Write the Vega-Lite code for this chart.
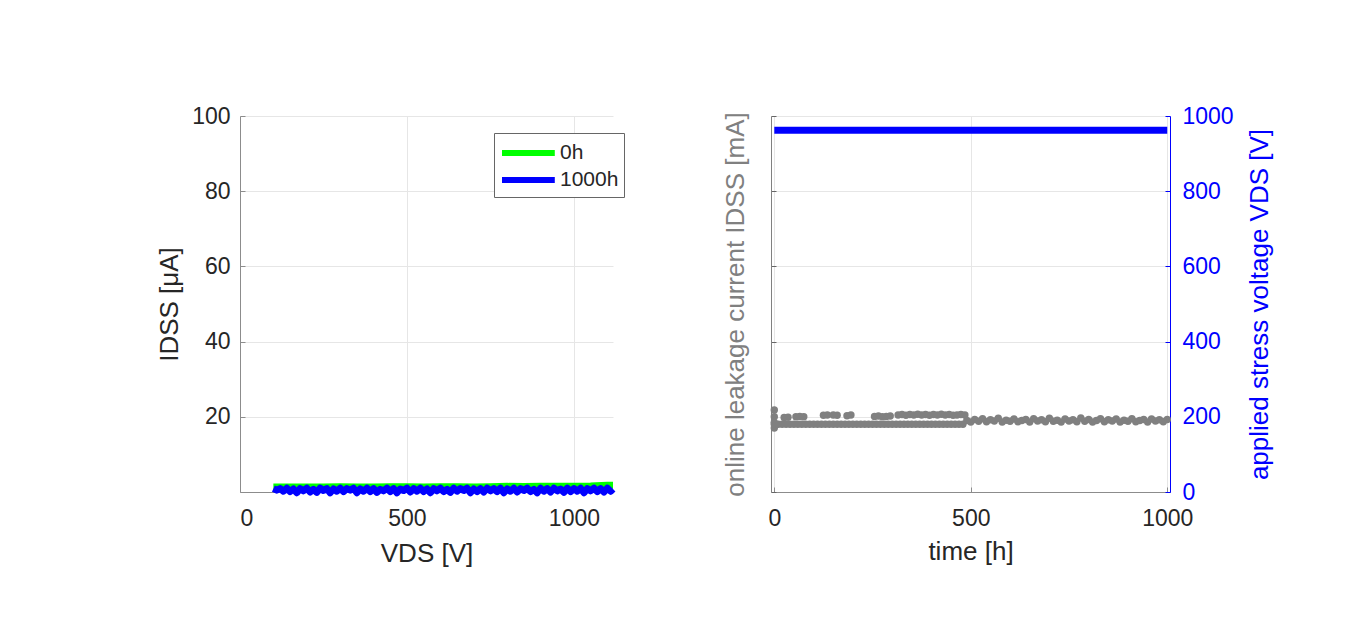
{
  "$schema": "https://vega.github.io/schema/vega-lite/v6.json",
  "background": "white",
  "padding": {"left": 156, "top": 105, "right": 5, "bottom": 5},
  "bounds": "flush",
  "spacing": 158,
  "config": {
    "font": "Liberation Sans",
    "view": {"stroke": null},
    "axis": {
      "labelFont": "Liberation Sans",
      "titleFont": "Liberation Sans",
      "labelFontSize": 23,
      "titleFontSize": 26,
      "titleFontWeight": "normal",
      "labelColor": "#262626",
      "titleColor": "#262626",
      "gridColor": "#e6e6e6",
      "domainColor": "#8c8c8c",
      "tickColor": "#8c8c8c",
      "tickSize": -5,
      "labelPadding": 15,
      "titlePadding": 8,
      "format": "d"
    },
    "axisX": {"labelPadding": 20, "titlePadding": 8},
    "legend": {"labelFont": "Liberation Sans"}
  },
  "datasets": {
    "sweep": [
      {"series": "0h", "V": 100, "I": 1.3}, {"series": "0h", "V": 150, "I": 1.35}, {"series": "0h", "V": 200, "I": 1.3},
      {"series": "0h", "V": 250, "I": 1.35}, {"series": "0h", "V": 300, "I": 1.4}, {"series": "0h", "V": 350, "I": 1.35},
      {"series": "0h", "V": 400, "I": 1.35}, {"series": "0h", "V": 450, "I": 1.4}, {"series": "0h", "V": 500, "I": 1.4},
      {"series": "0h", "V": 550, "I": 1.35}, {"series": "0h", "V": 600, "I": 1.4}, {"series": "0h", "V": 650, "I": 1.4},
      {"series": "0h", "V": 700, "I": 1.35}, {"series": "0h", "V": 750, "I": 1.4}, {"series": "0h", "V": 800, "I": 1.5},
      {"series": "0h", "V": 850, "I": 1.45}, {"series": "0h", "V": 900, "I": 1.5}, {"series": "0h", "V": 950, "I": 1.5},
      {"series": "0h", "V": 1000, "I": 1.55}, {"series": "0h", "V": 1050, "I": 1.6}, {"series": "0h", "V": 1100, "I": 1.8},
      {"series": "0h", "V": 1117, "I": 1.8},
      {"series": "1000h", "V": 100, "I": 0.9}, {"series": "1000h", "V": 110, "I": 0.5}, {"series": "1000h", "V": 120, "I": 0.9},
      {"series": "1000h", "V": 130, "I": 0.2}, {"series": "1000h", "V": 140, "I": 1.0}, {"series": "1000h", "V": 150, "I": 0.1},
      {"series": "1000h", "V": 160, "I": 0.8}, {"series": "1000h", "V": 170, "I": -0.2}, {"series": "1000h", "V": 180, "I": 0.9},
      {"series": "1000h", "V": 190, "I": 0.3}, {"series": "1000h", "V": 200, "I": 1.0}, {"series": "1000h", "V": 210, "I": 0.0},
      {"series": "1000h", "V": 220, "I": 0.7}, {"series": "1000h", "V": 230, "I": -0.1}, {"series": "1000h", "V": 240, "I": 1.0},
      {"series": "1000h", "V": 250, "I": 0.4}, {"series": "1000h", "V": 260, "I": 0.9}, {"series": "1000h", "V": 270, "I": -0.2},
      {"series": "1000h", "V": 280, "I": 0.8}, {"series": "1000h", "V": 290, "I": 0.2}, {"series": "1000h", "V": 300, "I": 1.0},
      {"series": "1000h", "V": 310, "I": 0.1}, {"series": "1000h", "V": 320, "I": 0.9}, {"series": "1000h", "V": 330, "I": 0.5},
      {"series": "1000h", "V": 340, "I": 1.0}, {"series": "1000h", "V": 350, "I": -0.2}, {"series": "1000h", "V": 360, "I": 0.8},
      {"series": "1000h", "V": 370, "I": 0.2}, {"series": "1000h", "V": 380, "I": 1.0}, {"series": "1000h", "V": 390, "I": 0.1},
      {"series": "1000h", "V": 400, "I": 0.9}, {"series": "1000h", "V": 410, "I": -0.1}, {"series": "1000h", "V": 420, "I": 0.7},
      {"series": "1000h", "V": 430, "I": 0.3}, {"series": "1000h", "V": 440, "I": 1.0}, {"series": "1000h", "V": 450, "I": 0.1},
      {"series": "1000h", "V": 460, "I": 0.9}, {"series": "1000h", "V": 470, "I": -0.2}, {"series": "1000h", "V": 480, "I": 0.8},
      {"series": "1000h", "V": 490, "I": 0.4}, {"series": "1000h", "V": 500, "I": 1.0}, {"series": "1000h", "V": 510, "I": 0.0},
      {"series": "1000h", "V": 520, "I": 0.9}, {"series": "1000h", "V": 530, "I": 0.2}, {"series": "1000h", "V": 540, "I": 1.0},
      {"series": "1000h", "V": 550, "I": 0.1}, {"series": "1000h", "V": 560, "I": 0.8}, {"series": "1000h", "V": 570, "I": -0.2},
      {"series": "1000h", "V": 580, "I": 0.9}, {"series": "1000h", "V": 590, "I": 0.3}, {"series": "1000h", "V": 600, "I": 1.0},
      {"series": "1000h", "V": 610, "I": 0.1}, {"series": "1000h", "V": 620, "I": 0.7}, {"series": "1000h", "V": 630, "I": -0.1},
      {"series": "1000h", "V": 640, "I": 1.0}, {"series": "1000h", "V": 650, "I": 0.2}, {"series": "1000h", "V": 660, "I": 0.9},
      {"series": "1000h", "V": 670, "I": 0.4}, {"series": "1000h", "V": 680, "I": 1.0}, {"series": "1000h", "V": 690, "I": -0.2},
      {"series": "1000h", "V": 700, "I": 0.8}, {"series": "1000h", "V": 710, "I": 0.1}, {"series": "1000h", "V": 720, "I": 0.9},
      {"series": "1000h", "V": 730, "I": 0.0}, {"series": "1000h", "V": 740, "I": 1.0}, {"series": "1000h", "V": 750, "I": 0.3},
      {"series": "1000h", "V": 760, "I": 0.9}, {"series": "1000h", "V": 770, "I": 0.1}, {"series": "1000h", "V": 780, "I": 1.0},
      {"series": "1000h", "V": 790, "I": -0.2}, {"series": "1000h", "V": 800, "I": 0.8}, {"series": "1000h", "V": 810, "I": 0.2},
      {"series": "1000h", "V": 820, "I": 1.0}, {"series": "1000h", "V": 830, "I": 0.0}, {"series": "1000h", "V": 840, "I": 0.9},
      {"series": "1000h", "V": 850, "I": 0.4}, {"series": "1000h", "V": 860, "I": 1.0}, {"series": "1000h", "V": 870, "I": 0.1},
      {"series": "1000h", "V": 880, "I": 0.7}, {"series": "1000h", "V": 890, "I": -0.2}, {"series": "1000h", "V": 900, "I": 1.0},
      {"series": "1000h", "V": 910, "I": 0.2}, {"series": "1000h", "V": 920, "I": 0.9}, {"series": "1000h", "V": 930, "I": 0.0},
      {"series": "1000h", "V": 940, "I": 1.0}, {"series": "1000h", "V": 950, "I": 0.3}, {"series": "1000h", "V": 960, "I": 0.8},
      {"series": "1000h", "V": 970, "I": -0.1}, {"series": "1000h", "V": 980, "I": 1.0}, {"series": "1000h", "V": 990, "I": 0.1},
      {"series": "1000h", "V": 1000, "I": 0.9}, {"series": "1000h", "V": 1010, "I": 0.2}, {"series": "1000h", "V": 1020, "I": 1.0},
      {"series": "1000h", "V": 1030, "I": -0.2}, {"series": "1000h", "V": 1040, "I": 0.9}, {"series": "1000h", "V": 1050, "I": 0.3},
      {"series": "1000h", "V": 1060, "I": 1.0}, {"series": "1000h", "V": 1070, "I": 0.1}, {"series": "1000h", "V": 1080, "I": 0.9},
      {"series": "1000h", "V": 1090, "I": 0.0}, {"series": "1000h", "V": 1100, "I": 1.0}, {"series": "1000h", "V": 1110, "I": 0.2},
      {"series": "1000h", "V": 1117, "I": 0.8}
    ],
    "leak": [
      {"t": 0, "I": 170}, {"t": 0, "I": 185}, {"t": 0, "I": 200}, {"t": 0, "I": 218}, {"t": 0, "I": 180},
      {"t": 10, "I": 180}, {"t": 20, "I": 180}, {"t": 30, "I": 180}, {"t": 40, "I": 180}, {"t": 50, "I": 180},
      {"t": 60, "I": 180}, {"t": 70, "I": 180}, {"t": 80, "I": 180}, {"t": 90, "I": 180}, {"t": 100, "I": 180},
      {"t": 110, "I": 180}, {"t": 120, "I": 180}, {"t": 130, "I": 180}, {"t": 140, "I": 180}, {"t": 150, "I": 180},
      {"t": 160, "I": 180}, {"t": 170, "I": 180}, {"t": 180, "I": 180}, {"t": 190, "I": 180}, {"t": 200, "I": 180},
      {"t": 210, "I": 180}, {"t": 220, "I": 180}, {"t": 230, "I": 180}, {"t": 240, "I": 180}, {"t": 250, "I": 180},
      {"t": 260, "I": 180}, {"t": 270, "I": 180}, {"t": 280, "I": 180}, {"t": 290, "I": 180}, {"t": 300, "I": 180},
      {"t": 310, "I": 180}, {"t": 320, "I": 180}, {"t": 330, "I": 180}, {"t": 340, "I": 180}, {"t": 350, "I": 180},
      {"t": 360, "I": 180}, {"t": 370, "I": 180}, {"t": 380, "I": 180}, {"t": 390, "I": 180}, {"t": 400, "I": 180},
      {"t": 410, "I": 180}, {"t": 420, "I": 180}, {"t": 430, "I": 180}, {"t": 440, "I": 180}, {"t": 450, "I": 180},
      {"t": 460, "I": 180}, {"t": 470, "I": 180}, {"t": 480, "I": 180},
      {"t": 25, "I": 198}, {"t": 35, "I": 199}, {"t": 55, "I": 200}, {"t": 65, "I": 201}, {"t": 75, "I": 200},
      {"t": 125, "I": 204}, {"t": 135, "I": 205}, {"t": 150, "I": 205}, {"t": 160, "I": 204}, {"t": 185, "I": 203},
      {"t": 195, "I": 205}, {"t": 255, "I": 201}, {"t": 265, "I": 202}, {"t": 275, "I": 200}, {"t": 285, "I": 201},
      {"t": 295, "I": 202}, {"t": 315, "I": 205}, {"t": 325, "I": 206}, {"t": 335, "I": 204}, {"t": 345, "I": 206},
      {"t": 355, "I": 205}, {"t": 365, "I": 207}, {"t": 375, "I": 205}, {"t": 385, "I": 206}, {"t": 395, "I": 204},
      {"t": 405, "I": 206}, {"t": 415, "I": 205}, {"t": 425, "I": 207}, {"t": 435, "I": 205}, {"t": 445, "I": 206},
      {"t": 455, "I": 204}, {"t": 465, "I": 205}, {"t": 475, "I": 206}, {"t": 485, "I": 205},
      {"t": 490, "I": 190}, {"t": 500, "I": 186}, {"t": 510, "I": 193}, {"t": 520, "I": 188}, {"t": 530, "I": 195},
      {"t": 540, "I": 187}, {"t": 550, "I": 192}, {"t": 560, "I": 189}, {"t": 570, "I": 196}, {"t": 580, "I": 186},
      {"t": 590, "I": 191}, {"t": 600, "I": 188}, {"t": 610, "I": 194}, {"t": 620, "I": 187}, {"t": 630, "I": 190},
      {"t": 640, "I": 193}, {"t": 650, "I": 186}, {"t": 660, "I": 195}, {"t": 670, "I": 189}, {"t": 680, "I": 192},
      {"t": 690, "I": 187}, {"t": 700, "I": 196}, {"t": 710, "I": 188}, {"t": 720, "I": 191}, {"t": 730, "I": 186},
      {"t": 740, "I": 194}, {"t": 750, "I": 189}, {"t": 760, "I": 192}, {"t": 770, "I": 187}, {"t": 780, "I": 197},
      {"t": 790, "I": 188}, {"t": 800, "I": 193}, {"t": 810, "I": 186}, {"t": 820, "I": 190}, {"t": 830, "I": 195},
      {"t": 840, "I": 187}, {"t": 850, "I": 192}, {"t": 860, "I": 189}, {"t": 870, "I": 194}, {"t": 880, "I": 186},
      {"t": 890, "I": 191}, {"t": 900, "I": 188}, {"t": 910, "I": 195}, {"t": 920, "I": 187}, {"t": 930, "I": 190},
      {"t": 940, "I": 193}, {"t": 950, "I": 186}, {"t": 960, "I": 194}, {"t": 970, "I": 189}, {"t": 980, "I": 192},
      {"t": 990, "I": 187}, {"t": 1000, "I": 193}
    ],
    "stress": [
      {"t": 0, "V": 962}, {"t": 250, "V": 962}, {"t": 500, "V": 962}, {"t": 750, "V": 962}, {"t": 1000, "V": 962}
    ]
  },
  "hconcat": [
    {
      "width": 373,
      "height": 376,
      "data": {"name": "sweep"},
      "mark": {"type": "line", "strokeWidth": 7, "strokeJoin": "round", "strokeCap": "butt"},
      "encoding": {
        "x": {
          "field": "V", "type": "quantitative",
          "scale": {"domain": [0, 1117], "nice": false, "zero": false},
          "axis": {"values": [0, 500, 1000], "title": "VDS [V]", "grid": true, "titlePadding": 10}
        },
        "y": {
          "field": "I", "type": "quantitative",
          "scale": {"domain": [0, 100], "nice": false},
          "axis": {"values": [20, 40, 60, 80, 100], "title": "IDSS [μA]", "grid": true, "labelPadding": 15, "titlePadding": 9}
        },
        "color": {
          "field": "series", "type": "nominal",
          "scale": {"domain": ["0h", "1000h"], "range": ["#00ff00", "#0000ff"]},
          "legend": {
            "orient": "none", "legendX": 254, "legendY": 17, "title": null,
            "strokeColor": "#666666", "fillColor": "white", "padding": 5,
            "symbolType": "M-1,0H3.4", "symbolSize": 576, "symbolStrokeWidth": 6,
            "labelFontSize": 21, "labelOffset": 31, "labelColor": "#262626", "rowPadding": -4
          }
        }
      }
    },
    {
      "width": 399,
      "height": 376,
      "layer": [
        {
          "data": {"name": "leak"},
          "mark": {"type": "point", "filled": true, "size": 55, "color": "#808080", "opacity": 1},
          "encoding": {
            "x": {
              "field": "t", "type": "quantitative",
              "scale": {"domain": [-8.4, 1007], "nice": false, "zero": false},
              "axis": {"values": [0, 500, 1000], "title": "time [h]", "grid": true}
            },
            "y": {
              "field": "I", "type": "quantitative",
              "scale": {"domain": [0, 1000], "nice": false},
              "axis": {
                "values": [0, 200, 400, 600, 800, 1000], "labels": false, "grid": true,
                "title": "online leakage current IDSS [mA]", "titleColor": "#808080",
                "domainColor": "#808080", "tickColor": "#666666", "titlePadding": 22
              }
            }
          }
        },
        {
          "data": {"name": "stress"},
          "mark": {"type": "line", "color": "#0000ff", "strokeWidth": 7, "strokeCap": "butt"},
          "encoding": {
            "x": {"field": "t", "type": "quantitative"},
            "y": {
              "field": "V", "type": "quantitative",
              "scale": {"domain": [0, 1000], "nice": false},
              "axis": {
                "orient": "right", "values": [0, 200, 400, 600, 800, 1000], "grid": false,
                "title": "applied stress voltage VDS [V]", "titleAngle": 270,
                "titleColor": "#0000ff", "labelColor": "#0000ff", "labelPadding": 17,
                "domainColor": "#0000ff", "tickColor": "#0000ff", "titlePadding": 39
              }
            }
          }
        }
      ],
      "resolve": {"scale": {"y": "independent"}}
    }
  ]
}
